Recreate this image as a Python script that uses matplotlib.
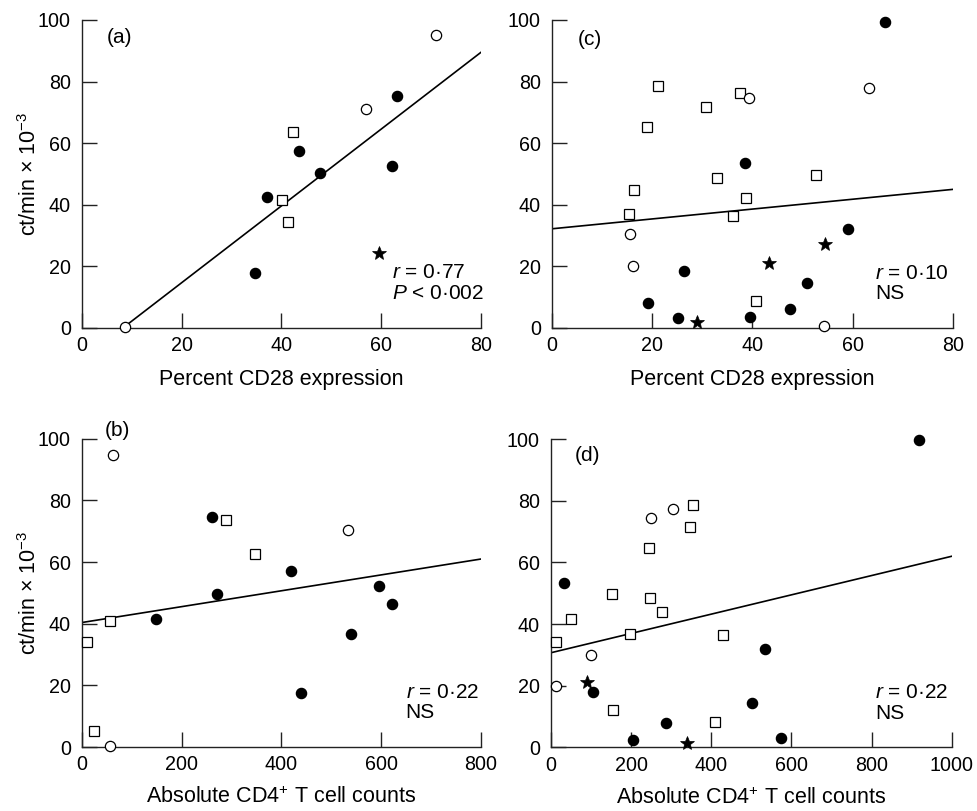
import matplotlib
matplotlib.use("Agg")
import matplotlib.pyplot as plt

plt.rcParams['font.family'] = ['Liberation Sans', 'DejaVu Sans']
plt.rcParams['mathtext.fontset'] = 'custom'
plt.rcParams['mathtext.rm'] = 'Liberation Sans'
plt.rcParams['mathtext.it'] = 'Liberation Sans:italic'
plt.rcParams['mathtext.bf'] = 'Liberation Sans:bold'

# ---------------- Panel (a): percent CD28 vs ct/min ----------------
a_filled_x = [63.2, 62.2, 47.8, 43.5, 37.1, 34.7]
a_filled_y = [75.3, 52.7, 50.4, 57.3, 42.4, 18.0]
a_open_x = [8.6, 70.9, 56.9]
a_open_y = [0.2, 95.2, 71.2]
a_square_x = [42.4, 40.2, 41.4]
a_square_y = [63.6, 41.4, 34.5]
a_star_x = [59.5]
a_star_y = [24.4]
a_line_x = [8.6, 80]
a_line_y = [0.5, 89.5]

# ---------------- Panel (c) ----------------
c_filled_x = [66.4, 38.6, 59.0, 50.9, 26.4, 19.1, 25.1, 39.6, 47.4]
c_filled_y = [99.4, 53.7, 32.1, 14.7, 18.4, 8.1, 3.2, 3.4, 6.3]
c_open_x = [63.2, 39.4, 15.6, 16.1, 54.3]
c_open_y = [77.8, 74.6, 30.6, 20.0, 0.8]
c_square_x = [21.1, 37.5, 30.8, 19.0, 33.0, 52.7, 16.3, 38.7, 15.3, 36.2, 40.7]
c_square_y = [78.7, 76.3, 71.9, 65.2, 48.6, 49.6, 44.8, 42.2, 37.1, 36.3, 8.7]
c_star_x = [28.9, 43.2, 54.5]
c_star_y = [2.0, 21.0, 27.2]
c_line_x = [0, 80]
c_line_y = [32.2, 45.0]

# ---------------- Panel (b): absolute CD4+ counts ----------------
b_filled_x = [259.8, 271.1, 148.6, 419.1, 596.5, 621.3, 540.3, 438.5]
b_filled_y = [74.7, 49.7, 41.6, 57.0, 52.2, 46.5, 36.8, 17.6]
b_open_x = [62.9, 533.6, 55.6]
b_open_y = [94.8, 70.5, 0.3]
b_square_x = [288.6, 347.5, 56.2, 10.0, 24.1]
b_square_y = [73.6, 62.6, 40.8, 34.1, 5.1]
b_line_x = [0, 800]
b_line_y = [40.4, 61.0]

# ---------------- Panel (d) ----------------
d_filled_x = [918.5, 31.6, 533.3, 105.7, 501.7, 287.0, 205.5, 574.9]
d_filled_y = [99.7, 53.4, 31.9, 17.9, 14.5, 7.8, 2.5, 3.1]
d_open_x = [249.6, 305.3, 99.0, 11.6]
d_open_y = [74.4, 77.4, 30.0, 20.0]
d_square_x = [355.3, 347.8, 244.6, 153.1, 246.3, 277.9, 49.1, 12.5, 196.4, 429.3, 155.6, 409.3]
d_square_y = [78.6, 71.5, 64.6, 49.6, 48.4, 44.0, 41.8, 34.2, 36.7, 36.5, 12.2, 8.2]
d_star_x = [89.0, 339.5]
d_star_y = [21.2, 1.3]
d_line_x = [0, 1000]
d_line_y = [30.7, 62.0]

ylabel = r"ct/min $\times$ 10$^{-3}$"
xlabel_pct = "Percent CD28 expression"
xlabel_abs = r"Absolute CD4$^{+}$ T cell counts"

TFS = 14.2   # tick labels
LFS = 15.5   # axis labels
AFS = 15.0   # annotations

fig = plt.figure(figsize=(9.78, 8.11), dpi=100)

def make_ax(rect, xmax, xticks):
    ax = fig.add_axes(rect)
    ax.set_xlim(0, xmax)
    ax.set_ylim(0, 100)
    ax.set_xticks(xticks)
    ax.set_yticks([0, 20, 40, 60, 80, 100])
    ax.spines['top'].set_visible(False)
    ax.spines['right'].set_visible(False)
    for s in ('left', 'bottom'):
        ax.spines[s].set_linewidth(1.0)
        ax.spines[s].set_color('#222222')
    ax.tick_params(direction='in', length=11, width=1.0, color='#222222',
                   labelsize=TFS, pad=6)
    ax.tick_params(axis='y', pad=8)
    return ax

def plot_points(ax, fx, fy, ox, oy, sx, sy, stx=None, sty=None):
    ms = 7.4
    ax.plot(sx, sy, ls='none', marker='s', ms=7.0, mfc='white', mec='black',
            mew=0.9, clip_on=False, zorder=3)
    ax.plot(ox, oy, ls='none', marker='o', ms=ms, mfc='white', mec='black',
            mew=0.9, clip_on=False, zorder=4)
    ax.plot(fx, fy, ls='none', marker='o', ms=ms, mfc='black', mec='black',
            mew=0.9, clip_on=False, zorder=4)
    if stx is not None:
        ax.plot(stx, sty, ls='none', marker='*', ms=10.5, mfc='black', mec='black',
                mew=0.5, clip_on=False, zorder=4)

# (a)
ax_a = make_ax([0.0838, 0.5956, 0.408, 0.3798], 80, [0, 20, 40, 60, 80])
ax_a.plot(a_line_x, a_line_y, color='black', lw=1.2, zorder=2)
plot_points(ax_a, a_filled_x, a_filled_y, a_open_x, a_open_y,
            a_square_x, a_square_y, a_star_x, a_star_y)
ax_a.text(5.0, 94.3, "(a)", fontsize=AFS, va='center', ha='left')
ax_a.text(62.1, 17.9, r"$r$ = 0·77", fontsize=AFS, va='center', ha='left')
ax_a.text(62.1, 11.3, r"$P$ < 0·002", fontsize=AFS, va='center', ha='left')
ax_a.set_xlabel(xlabel_pct, fontsize=LFS, labelpad=10)
ax_a.set_ylabel(ylabel, fontsize=LFS, labelpad=-2)

# (c)
ax_c = make_ax([0.5644, 0.5956, 0.410, 0.3798], 80, [0, 20, 40, 60, 80])
ax_c.plot(c_line_x, c_line_y, color='black', lw=1.2, zorder=2)
plot_points(ax_c, c_filled_x, c_filled_y, c_open_x, c_open_y,
            c_square_x, c_square_y, c_star_x, c_star_y)
ax_c.text(5.2, 93.8, "(c)", fontsize=AFS, va='center', ha='left')
ax_c.text(64.5, 17.8, r"$r$ = 0·10", fontsize=AFS, va='center', ha='left')
ax_c.text(64.5, 11.1, "NS", fontsize=AFS, va='center', ha='left')
ax_c.set_xlabel(xlabel_pct, fontsize=LFS, labelpad=10)

# (b)
ax_b = make_ax([0.0838, 0.0789, 0.408, 0.380], 800, [0, 200, 400, 600, 800])
ax_b.plot(b_line_x, b_line_y, color='black', lw=1.2, zorder=2)
plot_points(ax_b, b_filled_x, b_filled_y, b_open_x, b_open_y,
            b_square_x, b_square_y)
ax_b.text(46, 102.8, "(b)", fontsize=AFS, va='center', ha='left', clip_on=False)
ax_b.text(649, 17.8, r"$r$ = 0·22", fontsize=AFS, va='center', ha='left')
ax_b.text(649, 11.2, "NS", fontsize=AFS, va='center', ha='left')
ax_b.set_xlabel(xlabel_abs, fontsize=LFS, labelpad=9)
ax_b.set_ylabel(ylabel, fontsize=LFS, labelpad=-2)

# (d)
ax_d = make_ax([0.5634, 0.0785, 0.4097, 0.380], 1000, [0, 200, 400, 600, 800, 1000])
ax_d.plot(d_line_x, d_line_y, color='black', lw=1.2, zorder=2)
plot_points(ax_d, d_filled_x, d_filled_y, d_open_x, d_open_y,
            d_square_x, d_square_y, d_star_x, d_star_y)
ax_d.text(59, 94.6, "(d)", fontsize=AFS, va='center', ha='left')
ax_d.text(808, 17.9, r"$r$ = 0·22", fontsize=AFS, va='center', ha='left')
ax_d.text(808, 11.0, "NS", fontsize=AFS, va='center', ha='left')
ax_d.set_xlabel(xlabel_abs, fontsize=LFS, labelpad=9)

fig.savefig("out.png", dpi=100, facecolor='white')
